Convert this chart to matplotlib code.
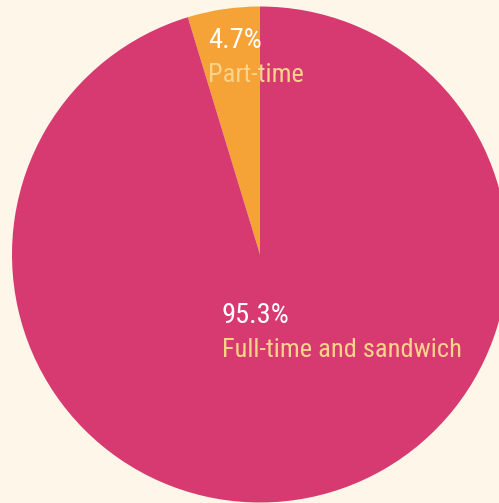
import matplotlib
matplotlib.use("Agg")
import matplotlib.pyplot as plt

categories = ["Part-time", "Full-time and sandwich"]
values = [4.7, 95.3]
pct_labels = ["4.7%", "95.3%"]
colors = ["#f5a236", "#d63a70"]

fam = ["Roboto Condensed", "Archivo Narrow", "Roboto", "DejaVu Sans"]

bg = "#fdf6e9"
fig = plt.figure(figsize=(4.99, 5.03), dpi=100, facecolor=bg)
ax = fig.add_axes([12/499, 0.5/503, 496/499, 496/503])
ax.set_facecolor(bg)
ax.pie(values, colors=colors, startangle=90, counterclock=True, radius=1,
       wedgeprops=dict(linewidth=0))
ax.set_xlim(-1, 1)
ax.set_ylim(-1, 1)
ax.set_aspect("equal")
ax.axis("off")

pos = [(-0.21, 0.833, 0.696), (-0.154, -0.276, -0.413)]
for (x, y1, y2), p, c in zip(pos, pct_labels, categories):
    ax.text(x, y1, p, color="white", fontsize=20.5, family=fam, ha="left", va="baseline")
    ax.text(x, y2, c, color="#fcd38a", fontsize=19, family=fam, ha="left", va="baseline")

fig.savefig("out.png", dpi=100, facecolor=bg)
